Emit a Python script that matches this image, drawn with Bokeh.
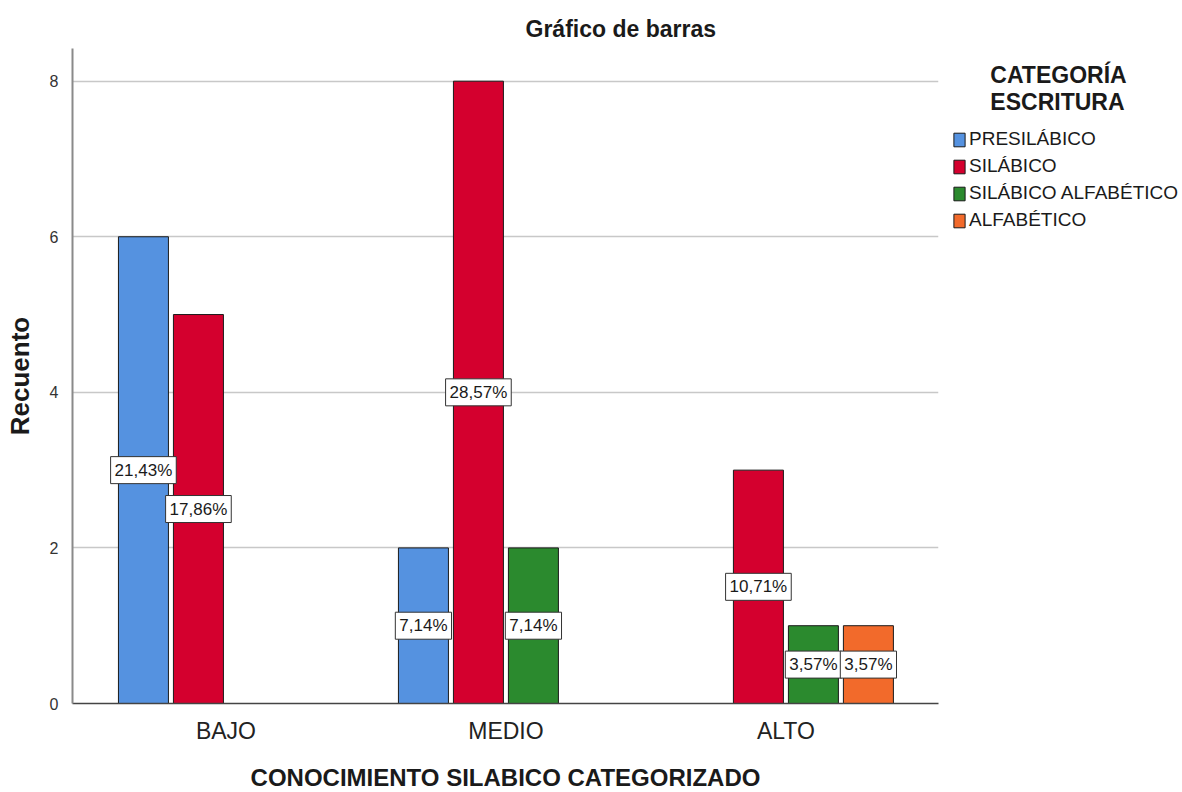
from bokeh.plotting import figure
from bokeh.models import (Range1d, FixedTicker, Label, Legend, LegendItem, ColumnDataSource)
from bokeh.embed import file_html
from bokeh.resources import INLINE

# ---- data ----
categories = ["BAJO", "MEDIO", "ALTO"]
series = ["PRESILÁBICO", "SILÁBICO", "SILÁBICO ALFABÉTICO", "ALFABÉTICO"]
presilabico = [6, 2, 0]
silabico = [5, 8, 3]
silabico_alfabetico = [0, 2, 1]
alfabetico = [0, 0, 1]
total_n = 28
y_ticks = [0, 2, 4, 6, 8]
legend_title_lines = ["CATEGORÍA", "ESCRITURA"]

values = [presilabico, silabico, silabico_alfabetico, alfabetico]
colors = ["#5592e0", "#d4002e", "#2b8a2e", "#f26a2b"]

FONT = "Liberation Sans"

p = figure(frame_width=866, frame_height=655, min_border_left=72, min_border_top=48,
           min_border_right=244, min_border_bottom=89,
           output_backend="svg", toolbar_location=None,
           x_range=Range1d(-0.548, 2.545), y_range=Range1d(0, 8.42))
p.outline_line_color = None
p.background_fill_color = "white"

# title
p.title.text = "Gráfico de barras"
p.title.text_font = FONT
p.title.text_font_size = "23px"
p.title.text_font_style = "bold"
p.title.text_color = "#1a1a1a"
p.title.align = "left"
p.title.offset = 453
p.title.standoff = 13

# grids
p.xgrid.grid_line_color = None
p.ygrid.ticker = FixedTicker(ticks=[2, 4, 6, 8])
p.ygrid.grid_line_color = "#c8c8c8"
p.ygrid.grid_line_width = 1.5

# axes
p.yaxis.ticker = FixedTicker(ticks=y_ticks)
p.yaxis.axis_line_color = "#8a8a8a"
p.yaxis.axis_line_width = 2
p.yaxis.major_tick_line_color = None
p.yaxis.minor_tick_line_color = None
p.yaxis.major_label_text_font = FONT
p.yaxis.major_label_text_font_size = "16px"
p.yaxis.major_label_text_color = "#333333"
p.yaxis.major_label_standoff = 8
p.yaxis.axis_label = "Recuento"
p.yaxis.axis_label_text_font = FONT
p.yaxis.axis_label_text_font_size = "26px"
p.yaxis.axis_label_text_font_style = "bold"
p.yaxis.axis_label_text_color = "#1a1a1a"
p.yaxis.axis_label_standoff = 12

p.xaxis.ticker = FixedTicker(ticks=list(range(len(categories))))
p.xaxis.major_label_overrides = {i: c for i, c in enumerate(categories)}
p.xaxis.axis_line_color = "#444444"
p.xaxis.axis_line_width = 1.5
p.xaxis.major_tick_line_color = None
p.xaxis.minor_tick_line_color = None
p.xaxis.major_label_text_font = FONT
p.xaxis.major_label_text_font_size = "23px"
p.xaxis.major_label_text_color = "#222222"
p.xaxis.major_label_standoff = 8
p.xaxis.axis_label = "CONOCIMIENTO SILABICO CATEGORIZADO"
p.xaxis.axis_label_text_font = FONT
p.xaxis.axis_label_text_font_size = "24px"
p.xaxis.axis_label_text_font_style = "bold"
p.xaxis.axis_label_text_color = "#1a1a1a"
p.xaxis.axis_label_standoff = 17

pitch = 55 / 280
bar_w = 50 / 280
n = len(series)

items = []
for i, (name, vals, col) in enumerate(zip(series, values, colors)):
    off = (i - (n - 1) / 2) * pitch
    xs = [j + off for j, v in enumerate(vals) if v > 0]
    ys = [v for v in vals if v > 0]
    src = ColumnDataSource(dict(x=xs, top=ys))
    r = p.vbar(x="x", top="top", width=bar_w, bottom=0, source=src,
               fill_color=col, line_color="#1a1a1a", line_width=1)
    items.append(LegendItem(label=name, renderers=[r]))
    for x, v in zip(xs, ys):
        pct = f"{100 * v / total_n:.2f}%".replace(".", ",")
        p.add_layout(Label(x=x, y=v / 2, text=pct, text_align="center", text_baseline="middle",
                           text_font=FONT, text_font_size="17px", text_color="#1a1a1a",
                           background_fill_color="white", border_line_color="#333333",
                           border_line_width=1, padding=4))

indent = "\u00a0" * 6
legend = Legend(items=items, location=(14, 472), padding=0, margin=0,
                border_line_color=None, background_fill_alpha=0,
                glyph_width=14, glyph_height=17, label_height=17, label_standoff=3,
                label_text_font=FONT, label_text_font_size="19px", label_text_color="#1a1a1a",
                spacing=5,
                title="\n".join(indent + t for t in legend_title_lines),
                title_text_font=FONT, title_text_font_size="23px", title_text_font_style="bold",
                title_text_color="#1a1a1a", title_standoff=12)
p.add_layout(legend, "right")

open("out.html", "w").write(file_html(p, INLINE))
